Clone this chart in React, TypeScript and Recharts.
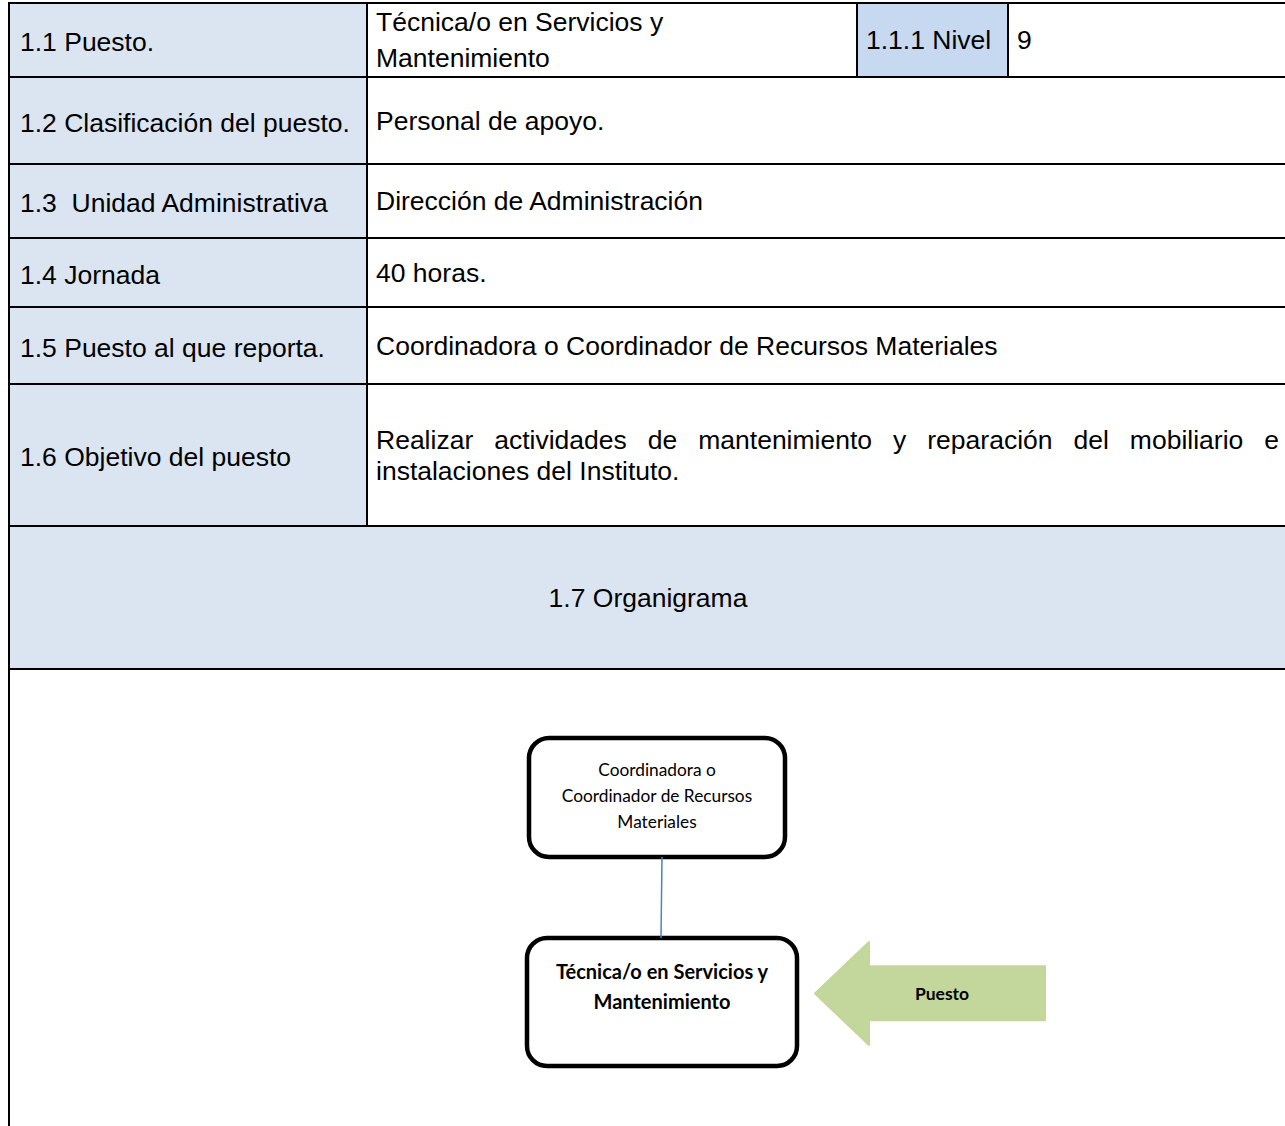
import React from "react";
import { ScatterChart, Scatter, XAxis, YAxis, ReferenceArea, ReferenceLine } from "recharts";

const W = 1285;
const H = 1126;

// table content
const fieldLabels = [
  "1.1 Puesto.",
  "1.2 Clasificación del puesto.",
  "1.3\u00a0 Unidad Administrativa",
  "1.4 Jornada",
  "1.5 Puesto al que reporta.",
  "1.6 Objetivo del puesto",
];
const fieldValues = [
  ["Técnica/o en Servicios y", "Mantenimiento"],
  ["Personal de apoyo."],
  ["Dirección de Administración"],
  ["40 horas."],
  ["Coordinadora o Coordinador de Recursos Materiales"],
  ["Realizar actividades de mantenimiento y reparación del mobiliario e", "instalaciones del Instituto."],
];
const levelLabel = "1.1.1 Nivel";
const levelValue = "9";
const sectionTitle = "1.7 Organigrama";

// org chart content
const bossLines = ["Coordinadora o", "Coordinador de Recursos", "Materiales"];
const postLines = ["Técnica/o en Servicios y", "Mantenimiento"];
const pointerLabel = "Puesto";

// layout (pixels in chart space)
const ROW_Y = [3, 77, 164, 238, 307, 384, 526, 669, 1150];
const COL_X = [9, 367, 857, 1008, 1310];
const VALUE_GAP = [36, 0, 0, 0, 0, 31];
const JUSTIFY_RIGHT = 1279;

const TABLE_FONT = "'Liberation Sans', Arial, sans-serif";
const ORG_FONT = "Lato, 'Open Sans', sans-serif";
const FS = 26.5;
const LABEL_BG = "#dbe5f1";
const LEVEL_BG = "#c6d9f1";

let ctx: CanvasRenderingContext2D | null = null;
const measure = (t: string, font: string) => {
  if (!ctx) ctx = document.createElement("canvas").getContext("2d");
  if (!ctx) return t.length * FS * 0.5;
  ctx.font = font;
  return ctx.measureText(t).width;
};

const Justified = ({ text, x, y, right }: { text: string; x: number; y: number; right: number }) => {
  const words = text.split(" ");
  const ws = words.map((w) => measure(w, `${FS}px 'Liberation Sans'`));
  const total = ws.reduce((a, b) => a + b, 0);
  const gap = (right - x - total) / (words.length - 1);
  let cx = x;
  return (
    <text y={y} fontFamily={TABLE_FONT} fontSize={FS} fill="#000">
      {words.map((w, i) => {
        const el = (
          <tspan key={i} x={cx}>
            {w}
          </tspan>
        );
        cx += ws[i] + gap;
        return el;
      })}
    </text>
  );
};

const cell = (fill: string, lines: string[], opts: { pad?: number; gap?: number; align?: "start" | "middle"; dy?: number; justify?: boolean } = {}) =>
  (p: any) => {
    const { x, y, width, height } = p;
    const pad = opts.pad ?? 11;
    const gap = opts.gap ?? 31;
    const cy = y + height / 2 + (opts.dy ?? 0);
    const first = cy - ((lines.length - 1) * gap) / 2;
    const tx = opts.align === "middle" ? x + width / 2 : x + pad;
    return (
      <g>
        <rect x={x} y={y} width={width} height={height} fill={fill} stroke="#000" strokeWidth={2} />
        {lines.map((l, i) =>
          opts.justify && i < lines.length - 1 ? (
            <Justified key={i} text={l} x={tx} y={first + i * gap + FS * 0.36} right={JUSTIFY_RIGHT} />
          ) : (
            <text
              key={i}
              x={tx}
              y={first + i * gap + FS * 0.36}
              textAnchor={opts.align === "middle" ? "middle" : "start"}
              fontFamily={TABLE_FONT}
              fontSize={FS}
              fill="#000"
            >
              {l}
            </text>
          )
        )}
      </g>
    );
  };

const orgBox = (lines: string[], bold: boolean, fs: number, gap: number, dy: number) => (p: any) => {
  const { x, y, width, height } = p;
  const cx = x + width / 2;
  const first = y + height / 2 + dy - ((lines.length - 1) * gap) / 2;
  return (
    <g>
      <rect x={x} y={y} width={width} height={height} rx={20} ry={20} fill="#fff" stroke="#000" strokeWidth={4.5} />
      {lines.map((l, i) => (
        <text
          key={i}
          x={cx}
          y={first + i * gap + fs * 0.35}
          textAnchor="middle"
          fontFamily={ORG_FONT}
          fontSize={fs}
          fontWeight={bold ? 700 : 400}
          fill="#000"
        >
          {l}
        </text>
      ))}
    </g>
  );
};

const arrowShape = (p: any) => {
  const { x, y, width, height } = p;
  const head = 54;
  const shaftTop = y + height * 0.235;
  const shaftBot = y + height * 0.76;
  const pts = [
    [x, y + height / 2],
    [x + head, y],
    [x + head, shaftTop],
    [x + width, shaftTop],
    [x + width, shaftBot],
    [x + head, shaftBot],
    [x + head, y + height],
  ]
    .map((q) => q.join(","))
    .join(" ");
  return (
    <g>
      <polygon points={pts} fill="#c3d69b" stroke="#c3d69b" strokeWidth={2} strokeLinejoin="round" />
      <text
        x={x + head + (width - head) / 2 - 15}
        y={y + height / 2 + 6}
        textAnchor="middle"
        fontFamily={ORG_FONT}
        fontSize={17.5}
        fontWeight={700}
        fill="#000"
      >
        {pointerLabel}
      </text>
    </g>
  );
};

export default function App() {
  return (
    <div style={{ position: "absolute", left: 0, top: 0, width: W, height: H, background: "#fff" }}>
      <ScatterChart width={W} height={H} margin={{ top: 0, right: 0, bottom: 0, left: 0 }}>
        <XAxis type="number" dataKey="x" domain={[0, W]} hide allowDataOverflow />
        <YAxis type="number" dataKey="y" domain={[0, H]} reversed hide allowDataOverflow />
        <Scatter data={[]} isAnimationActive={false} />

        {fieldLabels.map((lab, i) => (
          <ReferenceArea
            key={`l${i}`}
            x1={COL_X[0]}
            x2={COL_X[1]}
            y1={ROW_Y[i]}
            y2={ROW_Y[i + 1]}
            ifOverflow="hidden"
            shape={cell(LABEL_BG, [lab], { dy: 1.5 })}
          />
        ))}
        {fieldValues.map((vals, i) => (
          <ReferenceArea
            key={`v${i}`}
            x1={COL_X[1]}
            x2={i === 0 ? COL_X[2] : COL_X[4]}
            y1={ROW_Y[i]}
            y2={ROW_Y[i + 1]}
            ifOverflow="hidden"
            shape={cell("#fff", vals, { pad: 9, gap: VALUE_GAP[i], dy: -0.5, justify: i === 5 })}
          />
        ))}
        <ReferenceArea
          x1={COL_X[2]}
          x2={COL_X[3]}
          y1={ROW_Y[0]}
          y2={ROW_Y[1]}
          ifOverflow="hidden"
          shape={cell(LEVEL_BG, [levelLabel], { pad: 9, dy: -1 })}
        />
        <ReferenceArea
          x1={COL_X[3]}
          x2={COL_X[4]}
          y1={ROW_Y[0]}
          y2={ROW_Y[1]}
          ifOverflow="hidden"
          shape={cell("#fff", [levelValue], { pad: 9, dy: -1 })}
        />
        <ReferenceArea
          x1={COL_X[0]}
          x2={1287}
          y1={ROW_Y[6]}
          y2={ROW_Y[7]}
          ifOverflow="hidden"
          shape={cell(LABEL_BG, [sectionTitle], { align: "middle", dy: 0 })}
        />
        <ReferenceArea
          x1={COL_X[0]}
          x2={COL_X[4]}
          y1={ROW_Y[7]}
          y2={ROW_Y[8]}
          ifOverflow="hidden"
          shape={cell("#fff", [])}
        />

        <ReferenceLine
          segment={[
            { x: 662, y: 857 },
            { x: 661, y: 938 },
          ]}
          stroke="#4f81bd"
          strokeWidth={1.5}
          ifOverflow="hidden"
        />
        <ReferenceArea x1={529} x2={785} y1={738} y2={857} ifOverflow="hidden" shape={orgBox(bossLines, false, 17.3, 26, -2)} />
        <ReferenceArea x1={527} x2={797} y1={938} y2={1066} ifOverflow="hidden" shape={orgBox(postLines, true, 20, 30, -15)} />
        <ReferenceArea x1={815} x2={1045} y1={942} y2={1045} ifOverflow="hidden" shape={arrowShape} />
      </ScatterChart>
    </div>
  );
}
